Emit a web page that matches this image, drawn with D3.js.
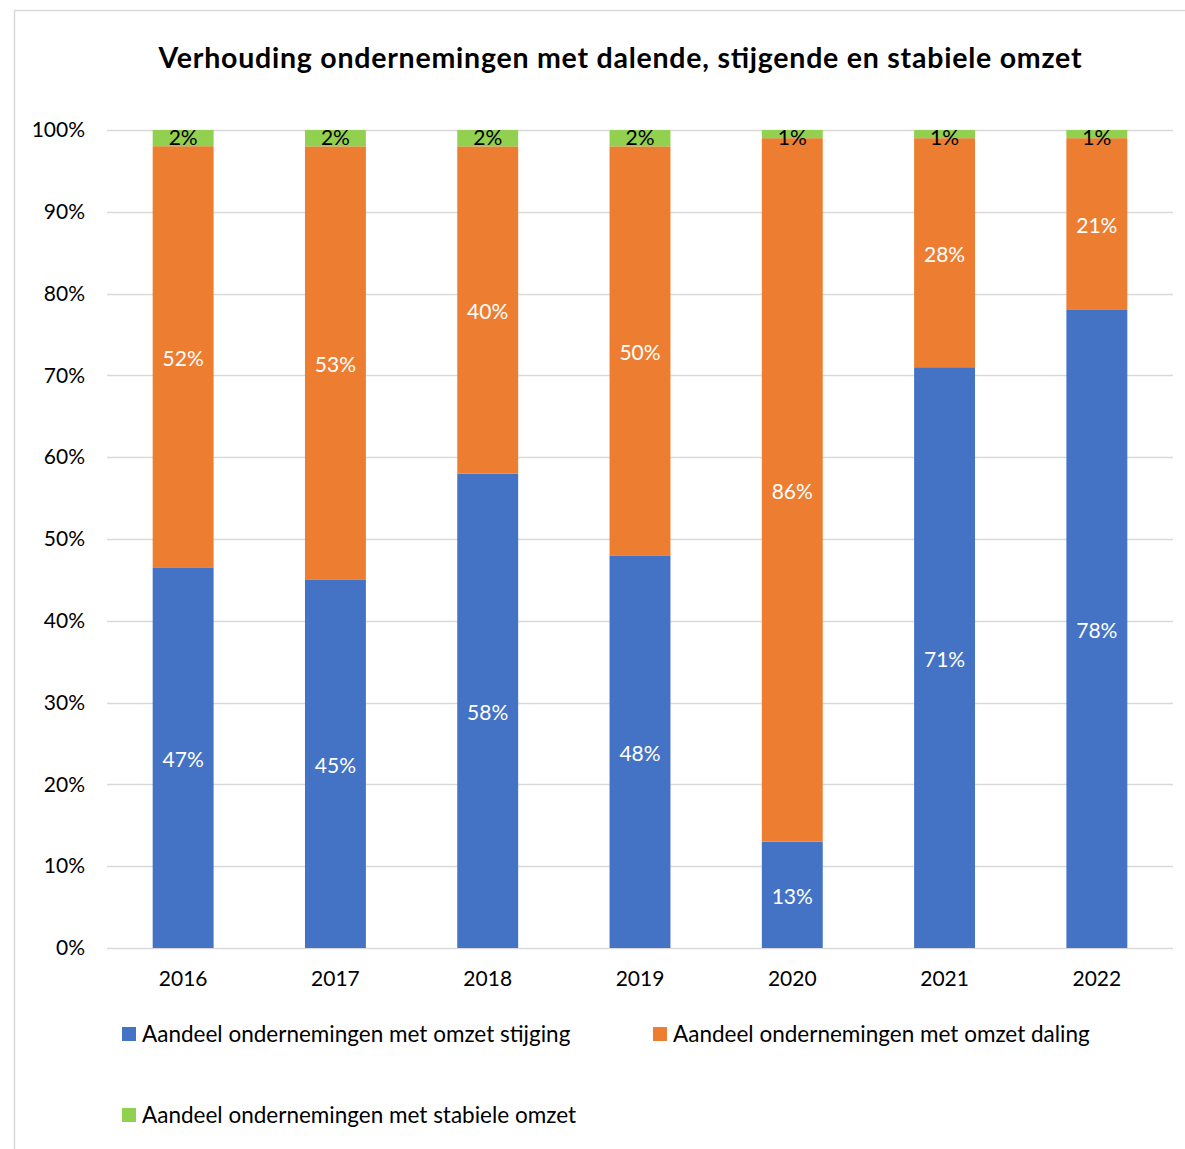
<!DOCTYPE html>
<html><head><meta charset="utf-8">
<script src="https://cdn.jsdelivr.net/npm/d3@7"></script>
<style>body{margin:0;background:#fff}svg{display:block}text{font-family:Lato,"Open Sans",sans-serif}</style>
</head><body>
<svg id="c" width="1185" height="1149"></svg>
<script>
const years = ["2016","2017","2018","2019","2020","2021","2022"];
const stijging = [47,45,58,48,13,71,78];
const daling = [52,53,40,50,86,28,21];
const stabiel = [2,2,2,2,1,1,1];
const seriesNames = ["Aandeel ondernemingen met omzet stijging","Aandeel ondernemingen met omzet daling","Aandeel ondernemingen met stabiele omzet"];
const colors = ["#4472c4","#ed7d31","#92d050"];
const labelColors = ["#fff","#fff","#000"];
const yTicks = [0,0.1,0.2,0.3,0.4,0.5,0.6,0.7,0.8,0.9,1];

const svg = d3.select("#c");
svg.append("rect").attr("x",14.5).attr("y",10.5).attr("width",1200).attr("height",1200)
  .attr("fill","#fff").attr("stroke","#d9d9d9").attr("stroke-width",1.5);

const x = d3.scaleBand().domain(years).range([107,1173]).paddingInner(0.6).paddingOuter(0.3);
const y = d3.scaleLinear().domain([0,1]).range([948,130]);

svg.append("text").attr("x",620).attr("y",68).attr("text-anchor","middle")
  .attr("font-size",28.5).attr("font-weight","bold").attr("fill","#000")
  .attr("textLength",923).attr("lengthAdjust","spacing")
  .text("Verhouding ondernemingen met dalende, stijgende en stabiele omzet");

// grid
svg.append("g").selectAll("line").data(yTicks).join("line")
  .attr("x1",107).attr("x2",1173).attr("y1",d=>Math.round(y(d))+0.5).attr("y2",d=>Math.round(y(d))+0.5)
  .attr("stroke","#d9d9d9").attr("stroke-width",1.5);

const yAxis = d3.axisLeft(y).tickValues(yTicks).tickFormat(d3.format(".0%")).tickSize(0).tickPadding(22);
const ya = svg.append("g").attr("transform","translate(107,0)").call(yAxis);
ya.select(".domain").remove();
ya.selectAll("text").attr("font-size",21).attr("fill","#000").attr("font-family","Lato");

const xAxis = d3.axisBottom(x).tickSize(0).tickPadding(23);
const xa = svg.append("g").attr("transform","translate(0,948)").call(xAxis);
xa.select(".domain").remove();
xa.selectAll("text").attr("font-size",21).attr("fill","#000").attr("font-family","Lato");

const rows = years.map((yr,i)=>({year:yr, s0:stijging[i], s1:daling[i], s2:stabiel[i], total:stijging[i]+daling[i]+stabiel[i]}));
const norm = rows.map(r=>({year:r.year, s0:r.s0/r.total, s1:r.s1/r.total, s2:r.s2/r.total}));
const stack = d3.stack().keys(["s0","s1","s2"])(norm);
const raw = [stijging,daling,stabiel];

stack.forEach((layer,si)=>{
  const g = svg.append("g");
  g.selectAll("rect").data(layer).join("rect")
    .attr("x",d=>x(d.data.year)).attr("width",x.bandwidth())
    .attr("y",d=>y(d[1])).attr("height",d=>y(d[0])-y(d[1]))
    .attr("fill",colors[si]);
  g.selectAll("text").data(layer).join("text")
    .attr("x",d=>x(d.data.year)+x.bandwidth()/2)
    .attr("y",d=> si===2 ? y(d[1])+15 : (y(d[0])+y(d[1]))/2+9)
    .attr("text-anchor","middle").attr("font-size",21).attr("fill",labelColors[si])
    .text((d,i)=>raw[si][i]+"%");
});

// legend
const legPos = [[122,1034],[653,1034],[122,1115]];
seriesNames.forEach((n,i)=>{
  const g = svg.append("g").attr("transform",`translate(${legPos[i][0]},${legPos[i][1]})`);
  g.append("rect").attr("x",0).attr("y",-7).attr("width",14).attr("height",14).attr("fill",colors[i]);
  g.append("text").attr("x",20).attr("y",8).attr("font-size",22.5).attr("fill","#000").text(n);
});
</script>
</body></html>
